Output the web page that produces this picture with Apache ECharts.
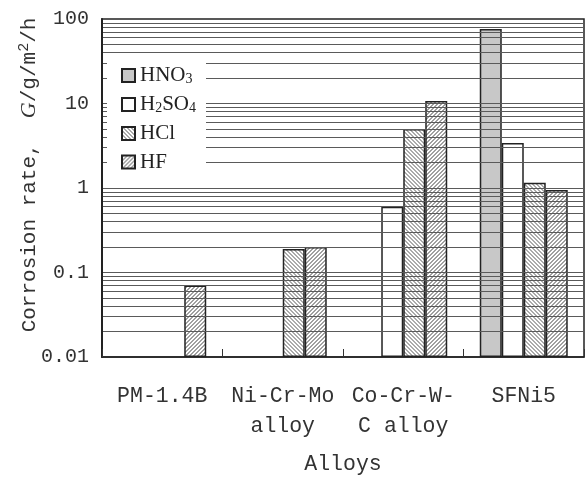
<!DOCTYPE html>
<html>
<head>
<meta charset="utf-8">
<script src="https://cdn.jsdelivr.net/npm/echarts@6/dist/echarts.min.js"></script>
<style>
  html, body { margin: 0; padding: 0; background: #fff; }
  #chart { width: 586px; height: 480px; }
</style>
</head>
<body>
<div id="chart"></div>
<script>
// Corrosion rate of four alloys in four acids (log scale, g/m²/h)
const categories = ['PM-1.4B', 'Ni-Cr-Mo\nalloy', 'Co-Cr-W-\nC alloy', 'SFNi5'];
const hno3  = [null, null, null, 76];
const h2so4 = [null, null, 0.6, 3.4];
const hcl   = [null, 0.19, 5.0, 1.15];
const hf    = [0.07, 0.20, 10.7, 0.95];
const yTicks = [0.01, 0.1, 1, 10, 100];
const yTickLabels = ['0.01', '0.1', '1', '10', '100'];
// log grid lines at 2..9 within each decade, plus the decade lines
const gridValues = [
  0.02, 0.03, 0.04, 0.05, 0.06, 0.07, 0.08, 0.09, 0.1,
  0.2, 0.3, 0.4, 0.5, 0.6, 0.7, 0.8, 0.9, 1,
  2, 3, 4, 5, 6, 7, 8, 9, 10,
  20, 30, 40, 50, 60, 70, 80, 90
];

// small repeating hatch textures for the bar fills
function hatch(dir, ink) {
  const n = 4;
  const c = document.createElement('canvas');
  c.width = n; c.height = n;
  const g = c.getContext('2d');
  g.fillStyle = '#ffffff';
  g.fillRect(0, 0, n, n);
  g.fillStyle = ink;
  for (let y = 0; y < n; y++) {
    for (let x = 0; x < n; x++) {
      const k = dir > 0 ? (x + y) % n : ((x - y) % n + n) % n;
      if (k === 0 || k === 1) g.fillRect(x, y, 1, 1);
    }
  }
  return { image: c, repeat: 'repeat' };
}

const mono = 'Liberation Mono';
const serif = 'Liberation Serif';
const edge = { borderColor: '#222', borderWidth: 1.5 };

function barSeries(name, data, fill) {
  return {
    name: name,
    type: 'bar',
    data: data,
    z: 3,
    barGap: '0%',
    barCategoryGap: '27%',
    itemStyle: Object.assign({ color: fill }, edge)
  };
}

const chart = echarts.init(document.getElementById('chart'), null, { renderer: 'canvas' });

const legendNames = { HNO3: '{a|HNO}{b|3}', H2SO4: '{a|H}{b|2}{a|SO}{b|4}', HCl: '{a|HCl}', HF: '{a|HF}' };

chart.setOption({
  animation: false,
  backgroundColor: '#ffffff',
  grid: { left: 102, right: 2, top: 19, bottom: 117, show: true, borderColor: '#222', borderWidth: 1.5, backgroundColor: 'transparent' },
  legend: {
    orient: 'vertical',
    left: 107,
    top: 58,
    padding: [7, 10, 3, 14],
    backgroundColor: '#ffffff',
    z: 10,
    itemWidth: 13,
    itemHeight: 13,
    itemGap: 7.5,
    icon: 'rect',
    data: ['HNO3', 'H2SO4', 'HCl', 'HF'],
    formatter: function (n) { return legendNames[n]; },
    textStyle: {
      fontSize: 21,
      fontFamily: serif,
      color: '#222',
      rich: {
        a: { fontSize: 21, fontFamily: serif, color: '#222', lineHeight: 22 },
        b: { fontSize: 14, fontFamily: serif, color: '#222', lineHeight: 22, verticalAlign: 'bottom' }
      }
    }
  },
  xAxis: {
    type: 'category',
    data: categories,
    axisLine: { lineStyle: { color: '#222', width: 1.5 } },
    axisTick: { show: true, inside: true, length: 8, lineStyle: { color: '#333', width: 1 } },
    axisLabel: { margin: 24, fontSize: 21.5, fontFamily: mono, color: '#333', lineHeight: 30, interval: 0 },
    name: 'Alloys',
    nameLocation: 'middle',
    nameGap: 96,
    nameTextStyle: { fontSize: 21.5, fontFamily: mono, color: '#333' },
    z: 5
  },
  yAxis: {
    type: 'log',
    logBase: 10,
    min: 0.01,
    max: 100,
    startValue: 0.01,
    axisLine: { show: true, lineStyle: { color: '#222', width: 2 } },
    axisTick: { show: false },
    splitLine: { show: false },
    axisLabel: {
      margin: 13,
      fontSize: 20,
      fontFamily: mono,
      color: '#333',
      formatter: function (v) {
        for (let i = 0; i < yTicks.length; i++) {
          if (Math.abs(Math.log10(v) - Math.log10(yTicks[i])) < 1e-6) return yTickLabels[i];
        }
        return '';
      }
    },
    z: 5
  },
  series: [
    {
      name: 'grid',
      type: 'line',
      data: [],
      z: 1,
      silent: true,
      markLine: {
        silent: true,
        symbol: 'none',
        label: { show: false },
        lineStyle: { color: '#5a5a5a', width: 1, type: 'solid' },
        data: gridValues.map(function (v) { return { yAxis: v }; })
      }
    },
    barSeries('HNO3', hno3, '#c8c8c8'),
    barSeries('H2SO4', h2so4, '#ffffff'),
    barSeries('HCl', hcl, hatch(-1, '#ababab')),
    barSeries('HF', hf, hatch(1, '#a0a0a0'))
  ],
  graphic: [
    {
      type: 'text',
      x: 29,
      y: 175,
      rotation: Math.PI / 2,
      style: {
        text: '{a|Corrosion rate,  }{i|G}{a|/g/m}{s|2}{a|/h}',
        align: 'center',
        verticalAlign: 'middle',
        rich: {
          a: { fontSize: 21, fontFamily: mono, fill: '#333', lineHeight: 24 },
          i: { fontSize: 22, fontFamily: serif, fontStyle: 'italic', fill: '#333', lineHeight: 24 },
          s: { fontSize: 15, fontFamily: mono, fill: '#333', verticalAlign: 'top', lineHeight: 24 }
        }
      }
    }
  ]
});
</script>
</body>
</html>
